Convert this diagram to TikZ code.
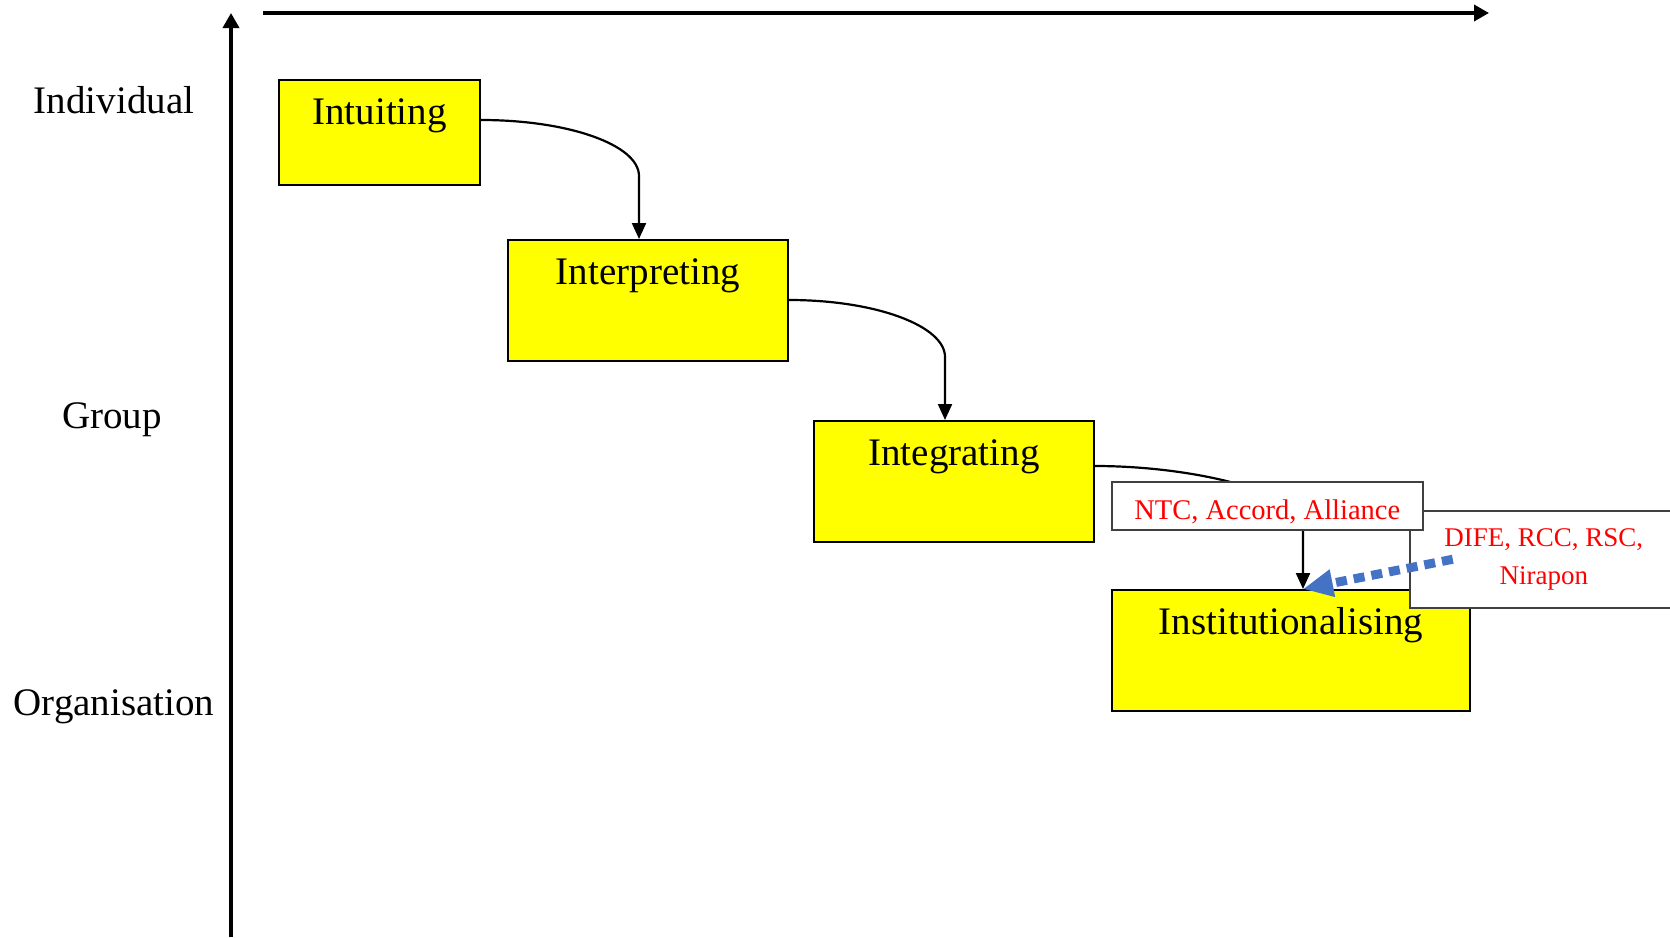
\documentclass[tikz,border=0pt]{standalone}
\usepackage{fontspec}
\setmainfont{Liberation Serif}
\usetikzlibrary{arrows.meta}

\definecolor{stageyellow}{RGB}{255,255,0}
\definecolor{notered}{RGB}{255,0,0}
\definecolor{hintblue}{RGB}{68,114,196}
\newcommand{\stagefont}{\fontsize{39}{44}\selectfont}
\newcommand{\notefont}{\fontsize{27}{38}\selectfont}

\begin{document}
\begin{tikzpicture}[x=1pt,y=-1pt,
  axis/.style={line width=3.5pt,-{Triangle[length=15pt,width=16pt]}},
  level/.style={font=\stagefont},
  stage/.style={draw,line width=2pt,fill=stageyellow,anchor=north west,
    inner sep=0pt,text height=44pt,font=\stagefont},
  note/.style={draw=black!75,line width=1.5pt,fill=white,anchor=north west,
    inner sep=0pt,text=notered,font=\notefont,align=center},
  conn/.style={line width=2.2pt,-{Triangle[length=16pt,width=14pt]}},
  hint/.style={hintblue,line width=9pt,dash pattern=on 11pt off 7pt,
    -{Triangle[length=30pt,width=26pt]}}]
  \useasboundingbox (0,0) rectangle (1670,937);

  % axes
  \coordinate (ybot) at (231,937);
  \coordinate (ytop) at (231,13);
  \coordinate (xleft) at (263,13);
  \coordinate (xright) at (1489,13);
  \draw[axis] (ybot) -- (ytop);
  \draw[axis] (xleft) -- (xright);

  % levels
  \node[level] (indiv) at (114,100) {Individual};
  \node[level] (group) at (112,420) {Group};
  \node[level] (organ) at (114,707) {Organisation};

  % the four stages
  \node[stage,minimum width=201pt,text depth=61pt] (intu) at (278,79) {Intuiting};
  \node[stage,minimum width=280pt,text depth=77pt] (interp) at (507,239) {Interpreting};
  \node[stage,minimum width=280pt,text depth=77pt] (integ) at (813,420) {Integrating};
  \node[stage,minimum width=358pt,text depth=77pt] (inst) at (1111,589) {Institutionalising};

  \coordinate (s1) at ([yshift=-41pt]intu.north east);
  \coordinate (e1) at ([xshift=-9pt]interp.north);
  \draw[conn] (s1) .. controls ([xshift=88pt]s1) and ([yshift=94pt]e1) .. ([yshift=63pt]e1) -- (e1);
  \coordinate (s2) at ([yshift=-61pt]interp.north east);
  \coordinate (e2) at ([xshift=-9pt]integ.north);
  \draw[conn] (s2) .. controls ([xshift=87pt]s2) and ([yshift=94pt]e2) .. ([yshift=63pt]e2) -- (e2);
  \coordinate (s3) at ([yshift=-46pt]integ.north east);
  \coordinate (e3) at ([xshift=12pt]inst.north);
  \draw[conn] (s3) .. controls ([xshift=100pt]s3) and ([yshift=96pt]e3) .. ([yshift=63pt]e3) -- (e3);

  % notes
  \node[note,minimum width=268pt,minimum height=97pt] (dife) at (1409,510) {DIFE, RCC, RSC,\\Nirapon};
  \node[note,minimum width=311pt,text height=38pt,text depth=10pt,
    font=\fontsize{28.5}{34}\selectfont] (ntc) at (1111,481) {NTC, Accord, Alliance};
  \coordinate (d0) at ([xshift=-91pt]dife.center);
  \draw[hint] (d0) -- (e3);
\end{tikzpicture}
\end{document}
